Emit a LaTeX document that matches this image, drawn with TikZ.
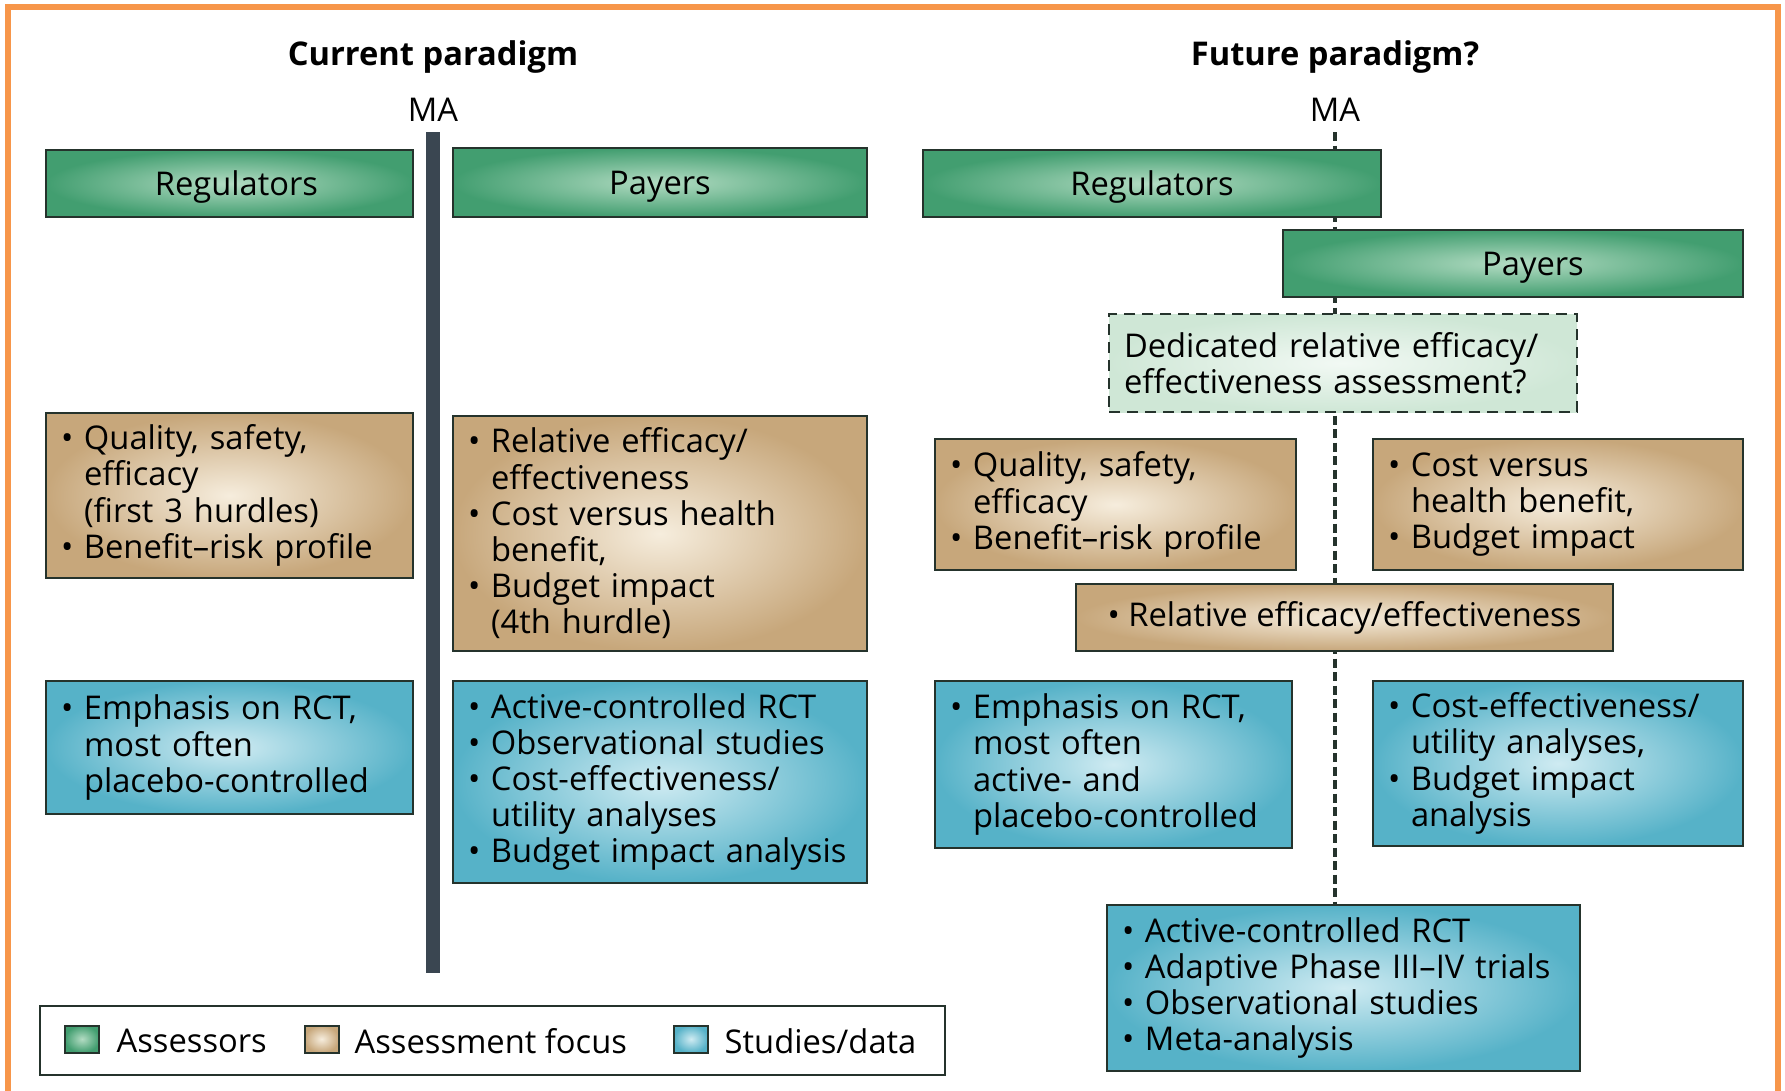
\documentclass[tikz,border=0pt]{standalone}
\usepackage{fontspec}
\setmainfont{Open Sans}
\usetikzlibrary{backgrounds}

\definecolor{assout}{HTML}{429E70}
\definecolor{assin}{HTML}{B3DCC3}
\definecolor{focout}{HTML}{C7A77B}
\definecolor{focin}{HTML}{F6EDDD}
\definecolor{stuout}{HTML}{56B2C8}
\definecolor{stuin}{HTML}{CFEBF2}
\definecolor{dashout}{HTML}{CFE7D6}
\definecolor{dashin}{HTML}{F2F9F4}
\definecolor{boxline}{HTML}{25332C}
\definecolor{barcol}{HTML}{3A4651}
\definecolor{framecol}{HTML}{F7964A}

\newcommand{\bodyfont}{\fontsize{9.3pt}{10.3pt}\selectfont}
\newcommand{\itm}{\makebox[2.3mm][l]{\textbullet}}
\newcommand{\cnt}{\hspace*{2.3mm}}

\tikzset{
    box/.style={draw=boxline, line width=0.2mm, inner xsep=1.5mm, inner ysep=0.5mm,
        align=left, font=\bodyfont},
    assessor/.style={box, shade, inner color=assin, outer color=assout, align=center,
        text depth=0pt},
    focus/.style={box, shade, inner color=focin, outer color=focout},
    studies/.style={box, shade, inner color=stuin, outer color=stuout},
    maybebox/.style={box, dashed, dash pattern=on 1.1mm off 0.7mm, shade,
        inner color=dashin, outer color=dashout},
    heading/.style={font=\bodyfont\bfseries},
    keysq/.style={draw=boxline, line width=0.2mm, minimum width=3.4mm, minimum height=2.7mm,
        inner sep=0pt},
}

\begin{document}
\begin{tikzpicture}[x=0.1mm,y=-0.1mm]
        \useasboundingbox (0,0) rectangle (1785,1090);
        \draw[framecol, line width=0.55mm] (8,1100) -- (8,7) -- (1778,7) -- (1778,1100);

        % current paradigm
        \node[heading] (curtitle) at (433,57) {Current paradigm};
        \node[font=\bodyfont] (maL) at (433,110) {MA};
        \coordinate (barend) at (433,973);
        \draw[barcol, line width=1.4mm] (maL.south) ++(0,0.2mm) -- (barend);

        \node[assessor, minimum width=36.7mm, minimum height=6.7mm] (regL) at (229.5,183.5) {\hspace*{1.4mm}Regulators};
        \node[assessor, minimum width=41.4mm, minimum height=6.9mm] (payL) at (660,182.5) {Payers};

        \node[focus, text width=33.7mm, minimum height=16.5mm] (focRegL) at (229.5,495.5)
            {\itm Quality, safety,\\ \cnt efficacy\\ \cnt (first 3 hurdles)\\ \itm Benefit--risk profile};
        \node[focus, text width=38.4mm, minimum height=23.5mm] (focPayL) at (660,533.5)
            {\itm Relative efficacy/\\ \cnt effectiveness\\ \itm Cost versus health\\ \cnt benefit,\\
             \itm Budget impact\\ \cnt (4th hurdle)};

        \node[studies, text width=33.7mm, minimum height=13.3mm] (stuRegL) at (229.5,747.5)
            {\itm Emphasis on RCT,\\ \cnt most often\\ \cnt placebo-controlled};
        \node[studies, text width=38.4mm, minimum height=20.2mm] (stuPayL) at (660,782)
            {\itm Active-controlled RCT\\ \itm Observational studies\\ \itm Cost-effectiveness/\\
             \cnt utility analyses\\ \itm Budget impact analysis};

        % future paradigm
        \node[heading] (futtitle) at (1335,57) {Future paradigm?};
        \node[font=\bodyfont] (maR) at (1335,110) {MA};

        \node[assessor, minimum width=45.8mm, minimum height=6.7mm] (regR) at (1152,183.5) {Regulators};
        \node[assessor, minimum width=46mm, minimum height=6.7mm] (payR) at (1513,263.5) {\hspace*{4mm}Payers};

        \node[maybebox, text width=43.8mm, minimum height=9.8mm] (dedicated) at (1343,363)
            {Dedicated relative efficacy/\\ effectiveness assessment?};

        \node[focus, text width=33.1mm, minimum height=13.1mm] (focRegR) at (1115.5,504.5)
            {\itm Quality, safety,\\ \cnt efficacy\\ \itm Benefit--risk profile};
        \node[focus, text width=34mm, minimum height=13.1mm] (focPayR) at (1558,504.5)
            {\itm Cost versus\\ \cnt health benefit,\\ \itm Budget impact};
        \node[focus, align=center, minimum width=53.7mm, minimum height=6.7mm] (relative) at (1344.5,617.5)
            {\textbullet\ Relative efficacy/effectiveness};

        \node[studies, text width=32.7mm, minimum height=16.7mm] (stuRegR) at (1113.5,764.5)
            {\itm Emphasis on RCT,\\ \cnt most often\\ \cnt active- and\\ \cnt placebo-controlled};
        \node[studies, text width=34mm, minimum height=16.5mm] (stuPayR) at (1558,763.5)
            {\itm Cost-effectiveness/\\ \cnt utility analyses,\\ \itm Budget impact\\ \cnt analysis};
        \node[studies, text width=44.3mm, minimum height=16.6mm] (stuJoint) at (1343.5,988)
            {\itm Active-controlled RCT\\ \itm Adaptive Phase III--IV trials\\
             \itm Observational studies\\ \itm Meta-analysis};

        \begin{scope}[on background layer]
            \draw[boxline, line width=0.45mm, dash pattern=on 0.9mm off 0.45mm]
                (maR.south) ++(0,0.2mm) -- (maR.south |- stuJoint.north);
        \end{scope}

        % key
        \node[draw=boxline, line width=0.2mm, minimum width=90.5mm, minimum height=6.9mm] (legend) at (492.5,1040.5) {};
        \node[keysq, shade, inner color=assin, outer color=assout] (keyAss) at (82,1039) {};
        \node[font=\bodyfont, anchor=west, inner sep=0pt] (keyAssTxt) at (116,1041) {Assessors};
        \node[keysq, shade, inner color=focin, outer color=focout] (keyFoc) at (321.5,1039) {};
        \node[font=\bodyfont, anchor=west, inner sep=0pt] (keyFocTxt) at (354,1041) {Assessment focus};
        \node[keysq, shade, inner color=stuin, outer color=stuout] (keyStu) at (691,1039) {};
        \node[font=\bodyfont, anchor=west, inner sep=0pt] (keyStuTxt) at (724,1041) {Studies/data};
\end{tikzpicture}
\end{document}
